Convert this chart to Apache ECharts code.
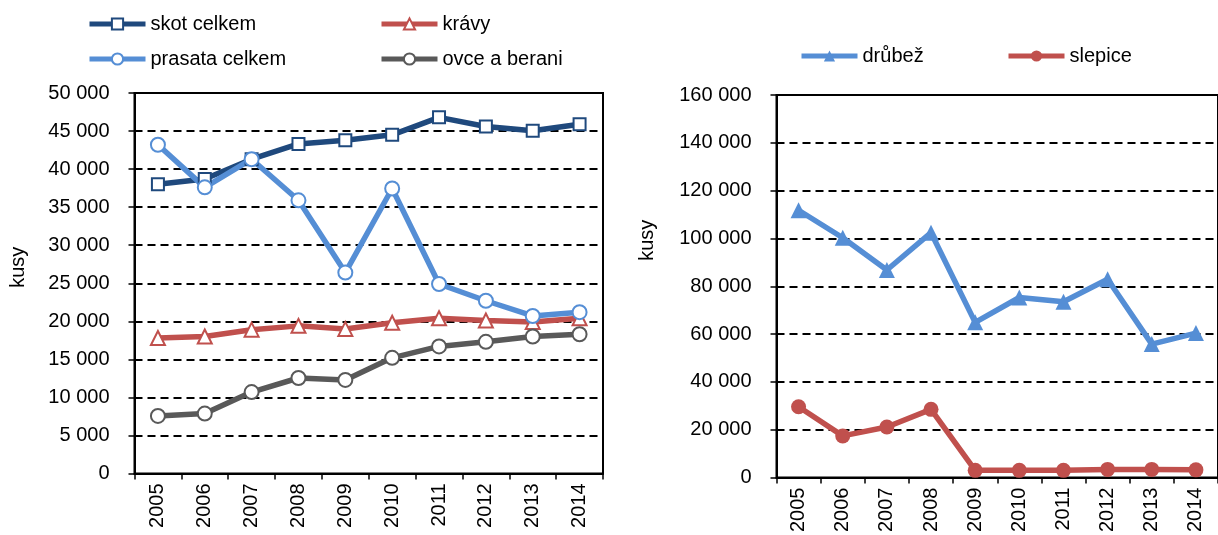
<!DOCTYPE html>
<html>
<head>
<meta charset="utf-8">
<script src="https://cdn.jsdelivr.net/npm/echarts@6/dist/echarts.min.js"></script>
<style>
  html, body { margin: 0; padding: 0; background: #fff; }
  #chart { width: 1218px; height: 535px; }
</style>
</head>
<body>
<div id="chart"></div>
<script>
var years = ['2005', '2006', '2007', '2008', '2009', '2010', '2011', '2012', '2013', '2014'];

// levy graf
var skotCelkem = [38000, 38700, 41300, 43300, 43800, 44500, 46800, 45600, 45050, 45900];
var kravy = [17800, 18000, 18900, 19400, 19000, 19800, 20400, 20100, 19900, 20400];
var prasataCelkem = [43200, 37600, 41300, 35900, 26400, 37450, 24900, 22700, 20700, 21200];
var ovceABerani = [7570, 7870, 10700, 12550, 12300, 15200, 16700, 17300, 18000, 18300];

// pravy graf
var drubez = [111800, 100300, 86800, 102400, 64900, 75300, 73500, 82900, 55800, 60400];
var slepice = [29600, 17400, 21100, 28500, 3000, 3000, 3000, 3400, 3400, 3200];

var leftTicks = { min: 0, max: 50000, interval: 5000 };
var rightTicks = { min: 0, max: 160000, interval: 20000 };

var FONT = '"Liberation Sans", Arial, sans-serif';

var fmt = function (v) {
    return String(v).replace(/\B(?=(\d{3})+(?!\d))/g, ' ');
};

var chart = echarts.init(document.getElementById('chart'));

var xAxisBase = function (idx) {
    return {
        type: 'category',
        gridIndex: idx,
        data: years,
        boundaryGap: true,
        axisLine: { lineStyle: { color: '#000', width: 2 } },
        axisTick: { show: true, length: 6, lineStyle: { color: '#000', width: 1.5 } },
        axisLabel: { rotate: 90, color: '#000', fontFamily: FONT, fontSize: 20, margin: 10 }
    };
};

var yAxisBase = function (idx, ticks, gap, pad) {
    return {
        type: 'value',
        gridIndex: idx,
        min: ticks.min,
        max: ticks.max,
        interval: ticks.interval,
        name: 'kusy',
        nameLocation: 'middle',
        nameGap: gap,
        nameTextStyle: { color: '#000', fontFamily: FONT, fontSize: 20, padding: [0, 0, 0, pad] },
        axisLine: { show: true, lineStyle: { color: '#000', width: 2 } },
        axisTick: { show: true, length: 6, lineStyle: { color: '#000', width: 1.5 } },
        axisLabel: { color: '#000', fontFamily: FONT, fontSize: 20, margin: 25, formatter: fmt },
        splitLine: { show: true, lineStyle: { color: '#000', width: 2, type: [8, 5] } }
    };
};

var hollow = function (name, data, color, symbol, size) {
    return {
        name: name,
        type: 'line',
        xAxisIndex: 0,
        yAxisIndex: 0,
        data: data,
        symbol: symbol,
        symbolSize: size,
        lineStyle: { color: color, width: 5.5 },
        itemStyle: { color: '#fff', borderColor: color, borderWidth: 2 }
    };
};

var filled = function (name, data, color, symbol, size) {
    return {
        name: name,
        type: 'line',
        xAxisIndex: 1,
        yAxisIndex: 1,
        data: data,
        symbol: symbol,
        symbolSize: size,
        lineStyle: { color: color, width: 5.5 },
        itemStyle: { color: color }
    };
};

// jedna polozka legendy = jedna komponenta, at sedi rozestupy
var legendItem = function (name, left, top) {
    return {
        data: [name],
        left: left,
        top: top,
        itemWidth: 56,
        itemHeight: 14,
        padding: 0,
        selectedMode: false,
        lineStyle: { width: 5 },
        textStyle: { color: '#000', fontFamily: FONT, fontSize: 20 }
    };
};

chart.setOption({
    animation: false,
    backgroundColor: '#fff',
    legend: [
        legendItem('skot celkem', 87, 14),
        legendItem('krávy', 379, 14),
        legendItem('prasata celkem', 87, 49),
        legendItem('ovce a berani', 379, 49),
        legendItem('drůbež', 799, 46),
        legendItem('slepice', 1006, 46)
    ],
    grid: [
        { left: 134.5, top: 93, width: 468.5, height: 380.5, show: true, borderColor: '#000', borderWidth: 2, backgroundColor: 'transparent' },
        { left: 776.5, top: 95, width: 448, height: 383, show: true, borderColor: '#000', borderWidth: 2, backgroundColor: 'transparent' }
    ],
    xAxis: [xAxisBase(0), xAxisBase(1)],
    yAxis: [yAxisBase(0, leftTicks, 106, 32), yAxisBase(1, rightTicks, 119, 92)],
    series: [
        hollow('skot celkem', skotCelkem, '#1F497D', 'rect', 12),
        hollow('krávy', kravy, '#C0504D', 'triangle', 14),
        hollow('prasata celkem', prasataCelkem, '#558ED5', 'circle', 14),
        hollow('ovce a berani', ovceABerani, '#595959', 'circle', 14),
        filled('drůbež', drubez, '#558ED5', 'triangle', 16),
        filled('slepice', slepice, '#C0504D', 'circle', 15)
    ]
});
</script>
</body>
</html>
